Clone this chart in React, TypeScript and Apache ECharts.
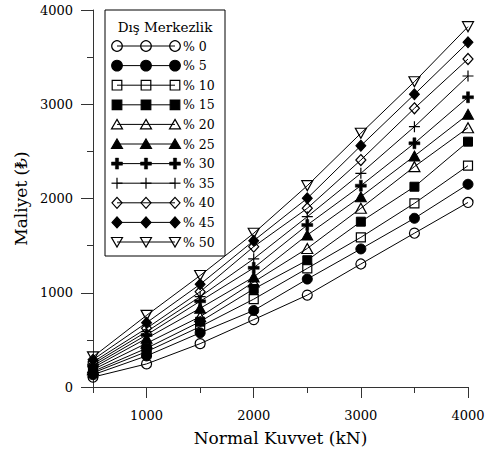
import React, { useEffect, useRef } from "react";
import * as echarts from "echarts";

const xValues = [500, 1000, 1500, 2000, 2500, 3000, 3500, 4000];
const seriesNames = ["% 0", "% 5", "% 10", "% 15", "% 20", "% 25", "% 30", "% 35", "% 40", "% 45", "% 50"];
const s0 = [105, 245, 460, 715, 975, 1305, 1632, 1958];
const s5 = [130, 330, 575, 812, 1145, 1465, 1790, 2151];
const s10 = [150, 375, 640, 932, 1259, 1588, 1949, 2348];
const s15 = [165, 411, 693, 1040, 1345, 1754, 2125, 2603];
const s20 = [185, 464, 746, 1114, 1470, 1896, 2338, 2751];
const s25 = [205, 516, 835, 1167, 1613, 2019, 2451, 2893];
const s30 = [225, 552, 910, 1264, 1719, 2136, 2586, 3074];
const s35 = [245, 587, 958, 1360, 1807, 2267, 2762, 3300];
const s40 = [265, 623, 1011, 1489, 1896, 2408, 2957, 3480];
const s45 = [290, 682, 1090, 1552, 2002, 2560, 3105, 3657];
const s50 = [320, 760, 1183, 1631, 2136, 2692, 3239, 3823];
const seriesValues = [s0, s5, s10, s15, s20, s25, s30, s35, s40, s45, s50];
const xMajorTicks = [1000, 2000, 3000, 4000];
const xMinorTicks = [500, 1500, 2500, 3500];

const FONT = "DejaVu Serif";
const kinds = ["circle", "circle", "rect", "rect", "tri", "tri", "plusThick", "plusThin", "diamond", "diamond", "triDown"];
const filled = [false, true, false, true, false, true, true, false, false, true, false];

const symbolFor = (k: string) => {
  switch (k) {
    case "circle": return "circle";
    case "rect": return "rect";
    case "tri": return "triangle";
    case "diamond": return "diamond";
    case "triDown": return "path://M0,0 L10,0 L5,9 Z";
    case "plusThick": return "path://M4,0 L7,0 L7,4 L11,4 L11,7 L7,7 L7,11 L4,11 L4,7 L0,7 L0,4 L4,4 Z";
    case "plusThin": return "path://M5,0 L5,10 M0,5 L10,5";
  }
  return "circle";
};
const sizeFor = (k: string): number | number[] => {
  switch (k) {
    case "circle": return 10;
    case "rect": return 9;
    case "tri": return [11, 10];
    case "diamond": return [10, 11];
    case "triDown": return [11, 10];
    case "plusThick": return 11;
    case "plusThin": return 11;
  }
  return 10;
};

function legendMarker(k: string, fill: boolean, cx: number, cy: number): any {
  const style = { fill: fill ? "#000" : "none", stroke: "#000", lineWidth: 1.2 };
  const z = 101;
  switch (k) {
    case "circle":
      return { type: "circle", z, shape: { cx, cy, r: 5.3 }, style };
    case "rect":
      return { type: "rect", z, shape: { x: cx - 4.8, y: cy - 4.8, width: 9.6, height: 9.6 }, style };
    case "tri":
      return { type: "polygon", z, shape: { points: [[cx, cy - 5], [cx + 5.5, cy + 4.5], [cx - 5.5, cy + 4.5]] }, style };
    case "triDown":
      return { type: "polygon", z, shape: { points: [[cx - 5.5, cy - 4.5], [cx + 5.5, cy - 4.5], [cx, cy + 5]] }, style };
    case "diamond":
      return { type: "polygon", z, shape: { points: [[cx, cy - 5.5], [cx + 5, cy], [cx, cy + 5.5], [cx - 5, cy]] }, style };
    case "plusThick": {
      const a = 1.6, b = 5.5;
      return {
        type: "polygon", z,
        shape: { points: [[cx - a, cy - b], [cx + a, cy - b], [cx + a, cy - a], [cx + b, cy - a], [cx + b, cy + a], [cx + a, cy + a], [cx + a, cy + b], [cx - a, cy + b], [cx - a, cy + a], [cx - b, cy + a], [cx - b, cy - a], [cx - a, cy - a]] },
        style: { fill: "#000", stroke: "#000", lineWidth: 0.5 },
      };
    }
    case "plusThin":
      return {
        type: "group", z,
        children: [
          { type: "line", z, shape: { x1: cx - 5.5, y1: cy, x2: cx + 5.5, y2: cy }, style: { stroke: "#000", lineWidth: 1.2 } },
          { type: "line", z, shape: { x1: cx, y1: cy - 5.5, x2: cx, y2: cy + 5.5 }, style: { stroke: "#000", lineWidth: 1.2 } },
        ],
      };
  }
  return null;
}

export default function App() {
  const ref = useRef<HTMLDivElement>(null);
  useEffect(() => {
    if (!ref.current) return;
    const chart = echarts.init(ref.current, null, { renderer: "svg" });

    const series = seriesNames.map((name, i) => ({
      name,
      type: "line",
      data: xValues.map((x, j) => [x, seriesValues[i][j]]),
      symbol: symbolFor(kinds[i]),
      symbolSize: sizeFor(kinds[i]),
      showSymbol: true,
      lineStyle: { color: "#000", width: 1 },
      itemStyle: filled[i]
        ? { color: "#000", borderColor: "#000", borderWidth: kinds[i] === "plusThick" ? 0.5 : 1 }
        : { color: "rgba(0,0,0,0)", borderColor: "#000", borderWidth: 1.2 },
      emphasis: { disabled: true },
      z: 2,
    }));

    const legendEls: any[] = [];
    const lx = 105, ly = 10, lw = 120, lh = 246;
    legendEls.push({ type: "rect", z: 100, shape: { x: lx, y: ly, width: lw, height: lh }, style: { fill: "#fff", stroke: "#000", lineWidth: 1 } });
    legendEls.push({ type: "text", z: 101, x: lx + lw / 2, y: 27, style: { text: "Dış Merkezlik", font: `13.5px '${FONT}'`, fill: "#000", textAlign: "center", textVerticalAlign: "middle" } });
    const xs = [117, 146, 175];
    seriesNames.forEach((name, i) => {
      const cy = 46 + i * 19.6;
      legendEls.push({ type: "line", z: 101, shape: { x1: xs[0], y1: cy, x2: xs[2], y2: cy }, style: { stroke: "#000", lineWidth: 1 } });
      xs.forEach((cx) => legendEls.push(legendMarker(kinds[i], filled[i], cx, cy)));
      legendEls.push({ type: "text", z: 101, x: 183, y: cy, style: { text: name, font: `12.5px '${FONT}'`, fill: "#000", textAlign: "left", textVerticalAlign: "middle" } });
    });

    const axisLine = { show: true, lineStyle: { color: "#333", width: 1 } };
    const fmt = (v: number) => String(v);
    chart.setOption({
      animation: false,
      backgroundColor: "#fff",
      textStyle: { fontFamily: FONT },
      grid: { left: 93, right: 23, top: 10, bottom: 65, containLabel: false },
      xAxis: [
        {
          type: "value",
          min: 500,
          max: 4000,
          interval: 500,
          position: "bottom",
          axisLine,
          splitLine: { show: false },
          axisTick: { show: true, length: 11, customValues: xMajorTicks, lineStyle: { color: "#333" } },
          axisLabel: { show: true, customValues: xMajorTicks, formatter: fmt, margin: 22, color: "#000", fontFamily: FONT, fontSize: 13 },
          name: "Normal Kuvvet (kN)",
          nameLocation: "middle",
          nameGap: 42,
          nameTextStyle: { fontFamily: FONT, fontSize: 17, color: "#000" },
        },
        {
          type: "value",
          min: 500,
          max: 4000,
          interval: 500,
          position: "bottom",
          gridIndex: 0,
          axisLine: { show: false },
          splitLine: { show: false },
          axisTick: { show: true, length: 6, customValues: xMinorTicks, lineStyle: { color: "#333" } },
          axisLabel: { show: false },
        },
      ],
      yAxis: {
        type: "value",
        min: 0,
        max: 4000,
        interval: 1000,
        axisLine,
        splitLine: { show: false },
        axisTick: { show: true, length: 12, lineStyle: { color: "#333" } },
        minorTick: { show: true, splitNumber: 2, length: 6, lineStyle: { color: "#333" } },
        axisLabel: { margin: 20, formatter: fmt, color: "#000", fontFamily: FONT, fontSize: 13 },
        name: "Maliyet (₺)",
        nameLocation: "middle",
        nameGap: 57,
        nameTextStyle: { fontFamily: FONT, fontSize: 17, color: "#000" },
      },
      series,
      graphic: { elements: legendEls },
    });
    return () => chart.dispose();
  }, []);
  return <div ref={ref} style={{ position: "fixed", left: 0, top: 0, width: 491, height: 452 }} />;
}
